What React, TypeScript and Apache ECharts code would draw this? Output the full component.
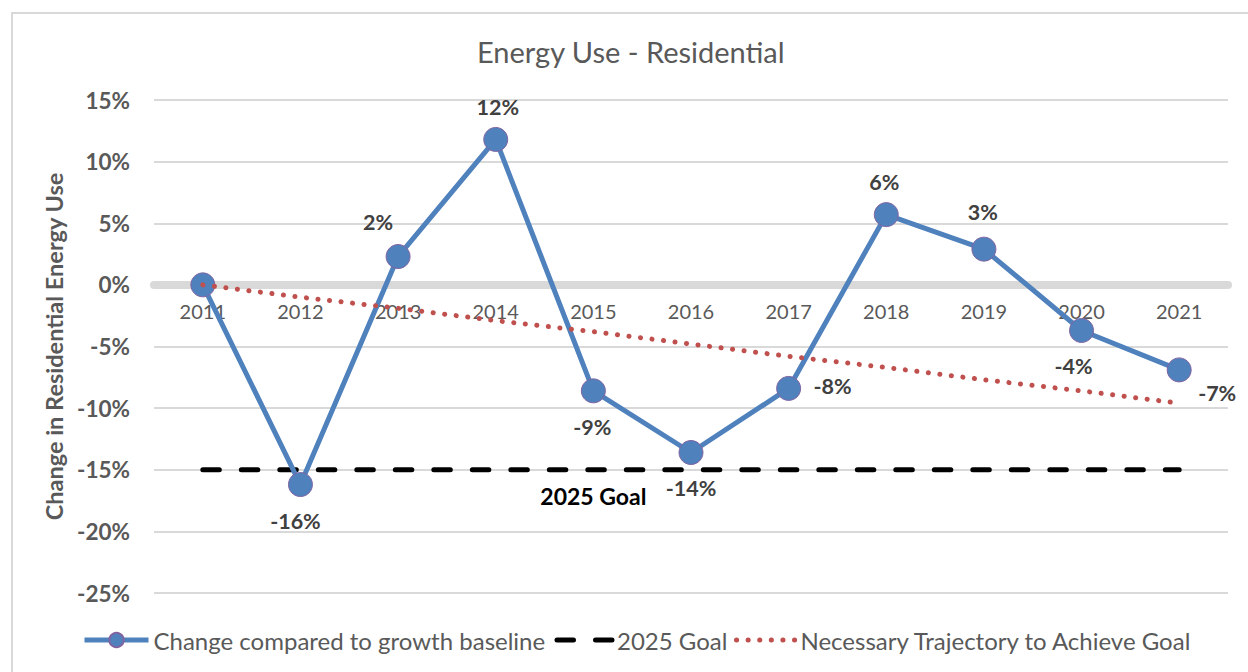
import { useEffect, useRef } from 'react';
import * as echarts from 'echarts';

const years = ['2011', '2012', '2013', '2014', '2015', '2016', '2017', '2018', '2019', '2020', '2021'];
const changeValues = [0, -16.2, 2.3, 11.8, -8.6, -13.6, -8.4, 5.7, 2.9, -3.7, -6.9];
const goalValues = [-15, -15, -15, -15, -15, -15, -15, -15, -15, -15, -15];
const trajectoryValues = [0, -1.0, -1.9, -2.9, -3.8, -4.8, -5.8, -6.7, -7.7, -8.6, -9.6];
const yMin = -25;
const yMax = 15;
const yStep = 5;

const seriesNames = ['Change compared to growth baseline', '2025 Goal', 'Necessary Trajectory to Achieve Goal'];
const goalLabelText = '2025 Goal';
const goalLabelIndex = 4;

// label placement (style only)
const labelOffsets: (number[] | null)[] = [
  null, [-5, 36], [-20, -35], [2, -32], [-1, 36], [0, 36], [44, -2], [-2, -33], [-1, -37], [-8, 36], [38, 23],
];

const FONT = 'Lato, "Open Sans", sans-serif';
const GRID = { left: 154, right: 20, top: 100, bottom: 79 };
const GOAL_DASH = [16.5, 22];
const TRAJ_DOTS = [0.1, 11.5];

export default function App() {
  const ref = useRef<HTMLDivElement>(null);
  useEffect(() => {
    const chart = echarts.init(ref.current!, null, { renderer: 'svg' });
    const mainData = changeValues.map((v, i) => {
      const off = labelOffsets[i];
      return {
        value: v,
        label: off ? { show: true, position: 'inside', offset: off } : { show: false },
      };
    });
    const goalData = goalValues.map((v, i) => ({
      value: v,
      label: i === goalLabelIndex
        ? {
            show: true, position: 'inside', offset: [0, 26], formatter: goalLabelText,
            color: '#000', fontWeight: 'bold', fontSize: 23, fontFamily: FONT,
          }
        : { show: false },
    }));
    // pixel distance of the zero line above the grid bottom, from the value scale
    const plotH = 672 - GRID.top - GRID.bottom;
    const zeroOffset = -plotH * (0 - yMin) / (yMax - yMin);
    const legendText = { fontFamily: FONT, fontSize: 24, color: '#595959' };
    const legendTop = 623;
    chart.setOption({
      animation: false,
      backgroundColor: '#ffffff',
      title: {
        text: 'Energy Use - Residential',
        left: 472,
        top: 32,
        textStyle: { fontFamily: FONT, fontSize: 29, fontWeight: 'normal', color: '#595959' },
      },
      graphic: [
        {
          type: 'rect',
          shape: { x: 12, y: 13, width: 1260, height: 700 },
          style: { fill: 'none', stroke: '#d9d9d9', lineWidth: 2 },
          silent: true,
          z: -1,
        },
      ],
      grid: { ...GRID, containLabel: false },
      legend: [
        {
          left: 77, top: legendTop, itemWidth: 64, itemHeight: 18,
          textStyle: legendText, data: [{ name: seriesNames[0] }],
          lineStyle: { width: 5, color: '#4f81bd' },
        },
        {
          left: 549.5, top: legendTop, itemWidth: 55, itemHeight: 18,
          textStyle: legendText, data: [{ name: seriesNames[1] }],
          lineStyle: { width: 5, color: '#000000', type: GOAL_DASH, cap: 'round' },
        },
        {
          left: 729, top: legendTop, itemWidth: 59, itemHeight: 18,
          textStyle: legendText, data: [{ name: seriesNames[2] }],
          lineStyle: { width: 5, color: '#c0504d', type: TRAJ_DOTS, cap: 'round' },
        },
      ],
      xAxis: {
        type: 'category',
        data: years,
        boundaryGap: true,
        position: 'bottom',
        offset: zeroOffset,
        axisLine: { onZero: false, lineStyle: { color: '#d9d9d9', width: 8 } },
        axisTick: { show: false },
        axisLabel: { color: '#595959', fontSize: 20, fontFamily: FONT, margin: 16 },
        splitLine: { show: false },
      },
      yAxis: {
        type: 'value',
        min: yMin,
        max: yMax,
        interval: yStep,
        name: 'Change in Residential Energy Use',
        nameLocation: 'middle',
        nameRotate: 90,
        nameGap: 76,
        nameTextStyle: { fontFamily: FONT, fontSize: 23.5, fontWeight: 'bold', color: '#595959' },
        axisLine: { show: false },
        axisTick: { show: false },
        axisLabel: {
          formatter: '{value}%',
          color: '#595959',
          fontSize: 22.5,
          fontWeight: 'bold',
          fontFamily: FONT,
          margin: 24,
        },
        splitLine: { lineStyle: { color: '#d9d9d9', width: 2 } },
      },
      series: [
        {
          name: seriesNames[0],
          type: 'line',
          data: mainData,
          z: 3,
          symbol: 'circle',
          symbolSize: 24,
          lineStyle: { color: '#4f81bd', width: 5 },
          itemStyle: { color: '#4f81bd', borderColor: '#8064a2', borderWidth: 1 },
          label: {
            formatter: (p: any) => `${Math.round(p.value)}%`,
            color: '#404040',
            fontWeight: 'bold',
            fontSize: 21.5,
            fontFamily: FONT,
          },
          emphasis: { disabled: true },
        },
        {
          name: seriesNames[1],
          type: 'line',
          data: goalData,
          z: 2,
          symbol: 'circle',
          symbolSize: 0,
          itemStyle: { color: 'transparent' },
          lineStyle: { color: '#000000', width: 5, type: GOAL_DASH, cap: 'round' },
          emphasis: { disabled: true },
        },
        {
          name: seriesNames[2],
          type: 'line',
          data: trajectoryValues,
          z: 4,
          symbol: 'circle',
          symbolSize: 0,
          itemStyle: { color: 'transparent' },
          lineStyle: { color: '#c0504d', width: 5, type: TRAJ_DOTS, cap: 'round' },
          emphasis: { disabled: true },
        },
      ],
    });
    return () => chart.dispose();
  }, []);
  return (
    <div
      ref={ref}
      style={{ position: 'fixed', left: 0, top: 0, width: 1248, height: 672, background: '#fff' }}
    />
  );
}
